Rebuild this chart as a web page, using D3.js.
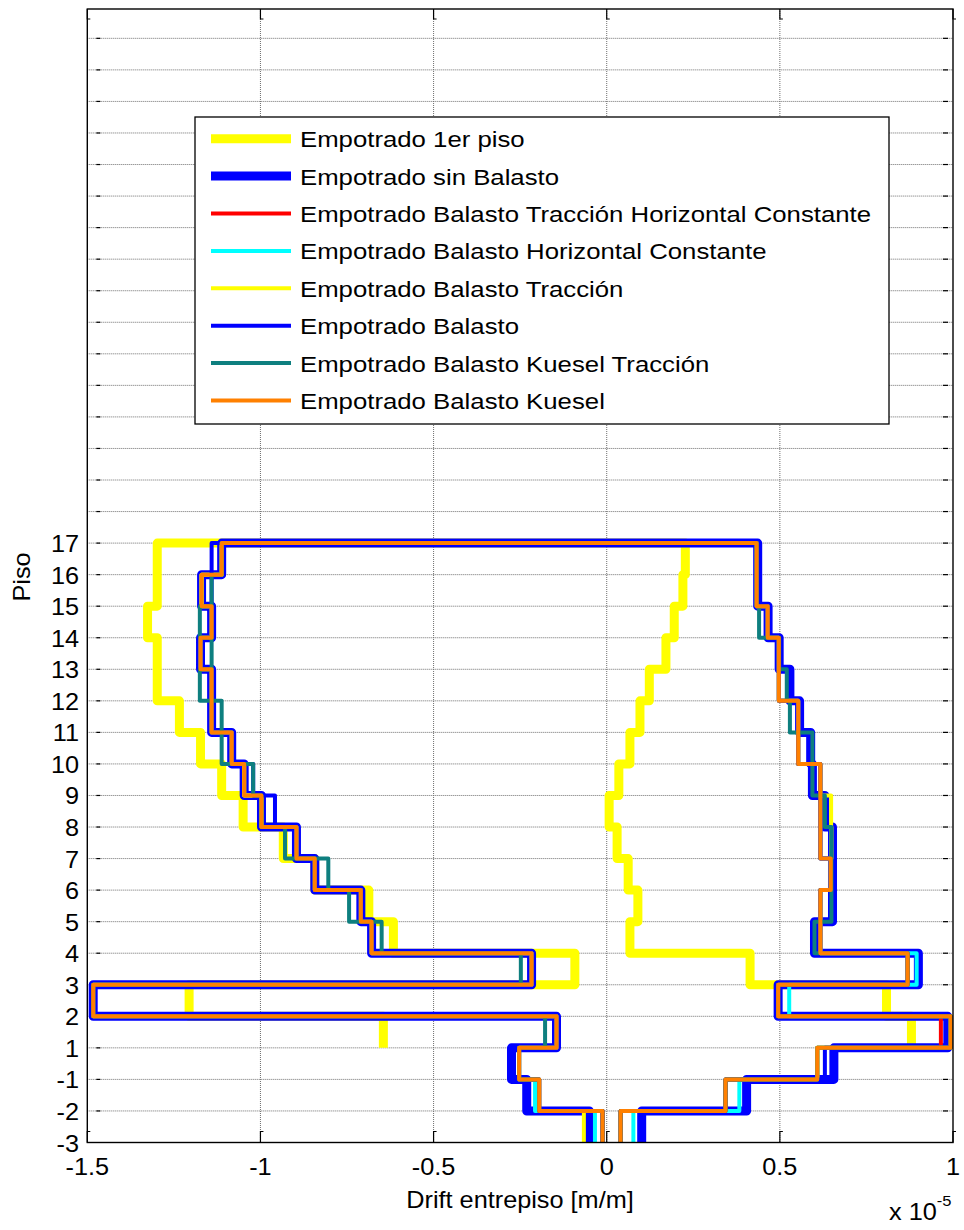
<!DOCTYPE html>
<html>
<head>
<meta charset="utf-8">
<script src="https://cdn.jsdelivr.net/npm/d3@7"></script>
<style>
  html, body { margin: 0; padding: 0; background: #fff; }
  svg { display: block; }
  text { font-family: "Liberation Sans", Arial, Helvetica, sans-serif; fill: #000; }
</style>
</head>
<body>
<svg id="chart" width="964" height="1230"></svg>
<script>
// ---------- DATA (drift values in units of 1e-5 m/m, stories listed bottom -> top) ----------
const floorLabels = ["-3","-2","-1","1","2","3","4","5","6","7","8","9","10","11","12","13","14","15","16","17"];
const xTickValues = [-1.5, -1, -0.5, 0, 0.5, 1];
const xTickLabels = ["-1.5", "-1", "-0.5", "0", "0.5", "1"];
const seriesNames = [
  "Empotrado 1er piso",
  "Empotrado sin Balasto",
  "Empotrado Balasto Tracción Horizontal Constante",
  "Empotrado Balasto Horizontal Constante",
  "Empotrado Balasto Tracción",
  "Empotrado Balasto",
  "Empotrado Balasto Kuesel Tracción",
  "Empotrado Balasto Kuesel"
];
const seriesColors = ["#ffff00", "#0000ff", "#ff0000", "#00ffff", "#ffff00", "#0000ff", "#0e7f7f", "#ff8000"];
const seriesWidths = [9, 9, 4, 4, 4, 4, 4, 4];
// first story index for each series (Empotrado 1er piso starts at floor 1)
const seriesStart = [3, 0, 0, 0, 0, 0, 0, 0];

const emp1erPisoNeg = [-0.645, -1.206, -0.092, -0.616, -0.687, -0.843, -0.934, -1.050, -1.112, -1.173, -1.234, -1.298, -1.298, -1.326, -1.298, -1.298];
const emp1erPisoPos = [0.880, 0.808, 0.414, 0.067, 0.090, 0.062, 0.030, 0.007, 0.035, 0.067, 0.096, 0.123, 0.171, 0.195, 0.220, 0.227];

const sinBalastoNeg = [-0.050, -0.231, -0.275, -0.145, -1.483, -0.217, -0.679, -0.710, -0.843, -0.896, -0.997, -1.047, -1.083, -1.141, -1.141, -1.173, -1.141, -1.170, -1.112];
const sinBalastoPos = [0.101, 0.404, 0.656, 0.985, 0.495, 0.900, 0.600, 0.652, 0.652, 0.652, 0.630, 0.594, 0.589, 0.557, 0.529, 0.498, 0.466, 0.436, 0.436];

const tracHorizNeg = [-0.012, -0.195, -0.253, -0.145, -1.483, -0.217, -0.679, -0.710, -0.843, -0.896, -0.997, -1.047, -1.083, -1.141, -1.141, -1.173, -1.141, -1.170, -1.112];
const tracHorizPos = [0.040, 0.343, 0.608, 0.965, 0.495, 0.869, 0.617, 0.617, 0.647, 0.617, 0.617, 0.617, 0.553, 0.553, 0.497, 0.497, 0.465, 0.433, 0.433];

const horizNeg = [-0.034, -0.207, -0.253, -0.145, -1.483, -0.217, -0.679, -0.710, -0.843, -0.896, -0.997, -1.047, -1.083, -1.141, -1.141, -1.173, -1.141, -1.170, -1.112];
const horizPos = [0.077, 0.383, 0.608, 0.993, 0.527, 0.895, 0.617, 0.617, 0.647, 0.617, 0.617, 0.617, 0.553, 0.553, 0.497, 0.497, 0.465, 0.433, 0.433];

const tracNeg = [-0.066, -0.195, -0.253, -0.145, -1.483, -0.217, -0.679, -0.710, -0.843, -0.896, -0.997, -1.047, -1.083, -1.141, -1.141, -1.173, -1.141, -1.170, -1.112];
const tracPos = [0.040, 0.343, 0.608, 0.993, 0.495, 0.869, 0.617, 0.617, 0.647, 0.649, 0.648, 0.617, 0.553, 0.553, 0.497, 0.497, 0.465, 0.433, 0.433];

const balastoNeg = [-0.012, -0.195, -0.253, -0.145, -1.483, -0.217, -0.679, -0.710, -0.843, -0.896, -0.958, -1.021, -1.083, -1.141, -1.141, -1.173, -1.141, -1.141, -1.141];
const balastoPos = [0.040, 0.343, 0.630, 0.993, 0.495, 0.869, 0.617, 0.617, 0.647, 0.617, 0.617, 0.617, 0.553, 0.553, 0.497, 0.497, 0.465, 0.433, 0.433];

const kueselTracNeg = [-0.012, -0.195, -0.253, -0.178, -1.483, -0.248, -0.650, -0.744, -0.804, -0.929, -0.997, -1.021, -1.112, -1.112, -1.175, -1.141, -1.175, -1.141, -1.112];
const kueselTracPos = [0.040, 0.343, 0.608, 0.993, 0.495, 0.869, 0.600, 0.649, 0.649, 0.649, 0.630, 0.594, 0.594, 0.529, 0.520, 0.498, 0.440, 0.433, 0.433];

const kueselNeg = [-0.012, -0.195, -0.253, -0.145, -1.483, -0.217, -0.679, -0.710, -0.843, -0.896, -0.997, -1.047, -1.083, -1.141, -1.141, -1.173, -1.141, -1.170, -1.112];
const kueselPos = [0.040, 0.343, 0.608, 0.993, 0.495, 0.869, 0.617, 0.617, 0.647, 0.617, 0.617, 0.617, 0.553, 0.553, 0.497, 0.497, 0.465, 0.433, 0.433];

const negValues = [emp1erPisoNeg, sinBalastoNeg, tracHorizNeg, horizNeg, tracNeg, balastoNeg, kueselTracNeg, kueselNeg];
const posValues = [emp1erPisoPos, sinBalastoPos, tracHorizPos, horizPos, tracPos, balastoPos, kueselTracPos, kueselPos];

// ---------- LAYOUT ----------
const svg = d3.select("#chart");
const plotLeft = 87.3, plotRight = 953, plotTop = 9, plotBottom = 1142.5;
const yMaxIndex = 35.93; // axis extends above floor 17 with unlabeled grid rows
const x = d3.scaleLinear().domain([-1.5, 1]).range([plotLeft, plotRight]);
const y = d3.scaleLinear().domain([0, yMaxIndex]).range([plotBottom, plotTop]);
const gridLevels = d3.range(1, 36);

svg.append("rect").attr("x", 0).attr("y", 0).attr("width", 964).attr("height", 1230).attr("fill", "#fff");

// grid
const grid = svg.append("g");
grid.selectAll("line.h").data(gridLevels).enter().append("line")
  .attr("x1", plotLeft).attr("x2", plotRight)
  .attr("y1", d => y(d)).attr("y2", d => y(d))
  .attr("stroke", "#6e6e6e").attr("stroke-width", 1).attr("stroke-dasharray", "1,1");
grid.selectAll("line.v").data(xTickValues.slice(1, -1)).enter().append("line")
  .attr("y1", plotTop).attr("y2", plotBottom)
  .attr("x1", d => x(d)).attr("x2", d => x(d))
  .attr("stroke", "#6e6e6e").attr("stroke-width", 1).attr("stroke-dasharray", "1,1");

// tick marks
const ticks = svg.append("g").attr("stroke", "#000").attr("stroke-width", 1.2).attr("fill", "none");
ticks.selectAll("line.yl").data(gridLevels).enter().append("line")
  .attr("x1", plotLeft + 9).attr("x2", plotLeft + 13).attr("y1", d => y(d)).attr("y2", d => y(d));
ticks.selectAll("line.yr").data(gridLevels).enter().append("line")
  .attr("x1", plotRight - 10).attr("x2", plotRight - 5).attr("y1", d => y(d)).attr("y2", d => y(d));
ticks.selectAll("path.xb").data(xTickValues).enter().append("path")
  .attr("d", d => `M${x(d)},${plotBottom} V${plotBottom - 11} h3`);
ticks.selectAll("path.xt").data(xTickValues).enter().append("path")
  .attr("d", d => `M${x(d)},${plotTop} V${plotTop + 10} h3`);

// series
svg.append("clipPath").attr("id", "plotClip").append("rect")
  .attr("x", plotLeft).attr("y", plotTop).attr("width", plotRight - plotLeft).attr("height", plotBottom - plotTop);
const line = d3.line().x(d => x(d[0])).y(d => y(d[1]));
function stairPoints(neg, pos, start) {
  const pts = [];
  neg.forEach((v, i) => { pts.push([v, start + i]); pts.push([v, start + i + 1]); });
  for (let i = pos.length - 1; i >= 0; i--) { pts.push([pos[i], start + i + 1]); pts.push([pos[i], start + i]); }
  return pts;
}
const plot = svg.append("g").attr("clip-path", "url(#plotClip)");
seriesNames.forEach((name, k) => {
  plot.append("path")
    .attr("d", line(stairPoints(negValues[k], posValues[k], seriesStart[k])))
    .attr("fill", "none")
    .attr("stroke", seriesColors[k])
    .attr("stroke-width", seriesWidths[k])
    .attr("stroke-linejoin", "round")
    .attr("stroke-linecap", "butt");
});

// axes box
svg.append("rect").attr("x", plotLeft).attr("y", plotTop).attr("width", plotRight - plotLeft).attr("height", plotBottom - plotTop)
  .attr("fill", "none").attr("stroke", "#000").attr("stroke-width", 1.4);

// tick labels
const sx = 1.1;
svg.append("g").selectAll("text").data(floorLabels).enter().append("text")
  .attr("transform", (d, i) => `translate(79,${y(i) + 9}) scale(${sx},1)`)
  .attr("text-anchor", "end").attr("font-size", 23).text(d => d);
svg.append("g").selectAll("text").data(xTickValues).enter().append("text")
  .attr("transform", d => `translate(${x(d)},1175) scale(${sx},1)`)
  .attr("text-anchor", "middle").attr("font-size", 23).text((d, i) => xTickLabels[i]);

// axis titles
svg.append("text").attr("transform", `translate(520,1208) scale(${sx},1)`)
  .attr("text-anchor", "middle").attr("font-size", 23).text("Drift entrepiso [m/m]");
svg.append("text").attr("transform", `translate(30,577) rotate(-90) scale(${sx},1)`)
  .attr("text-anchor", "middle").attr("font-size", 23).text("Piso");
const mult = svg.append("text").attr("transform", `translate(889,1220) scale(${sx},1)`).attr("font-size", 23);
mult.append("tspan").text("x 10");
mult.append("tspan").attr("font-size", 15).attr("dy", -14).text("-5");

// legend
const lg = svg.append("g");
lg.append("rect").attr("x", 195).attr("y", 117).attr("width", 694).attr("height", 307)
  .attr("fill", "#fff").attr("stroke", "#000").attr("stroke-width", 1.3);
seriesNames.forEach((name, k) => {
  const cy = 138.7 + k * 37.4;
  lg.append("line").attr("x1", 211).attr("x2", 291).attr("y1", cy).attr("y2", cy)
    .attr("stroke", seriesColors[k]).attr("stroke-width", seriesWidths[k]);
  lg.append("text").attr("transform", `translate(300,${cy + 8.5}) scale(1.12,1)`)
    .attr("font-size", 23).text(name);
});
</script>
</body>
</html>
